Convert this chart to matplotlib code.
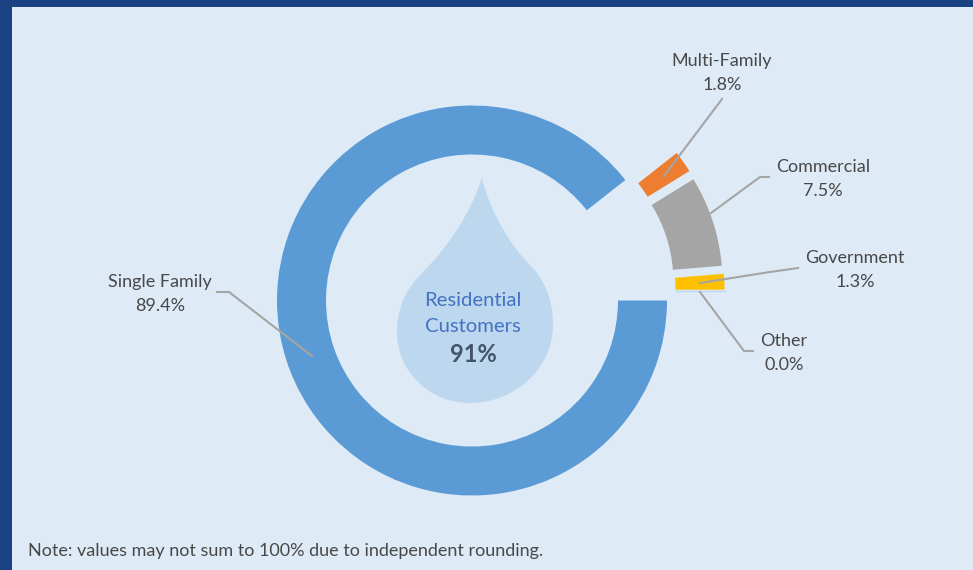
"""Residential customer share donut. Axes run in image pixels (y flipped by hand)."""

import matplotlib

matplotlib.use("Agg")
import matplotlib.pyplot as plt
from matplotlib.patches import PathPatch, Rectangle
from matplotlib.path import Path

W, H = 973, 570

CATEGORIES = ["Single Family", "Multi-Family", "Commercial", "Government", "Other"]
SHARES = [89.4, 1.8, 7.5, 1.3, 0.0]
CENTER_LINES = ["Residential", "Customers"]
CENTER_VALUE = "91%"
NOTE = "Note: values may not sum to 100% due to independent rounding."

COLORS = ["#5b9bd5", "#ed7d31", "#a5a5a5", "#ffc000", "#bdd7ee"]
BG = "#deeaf6"
NAVY = "#1a4282"
DROP = "#bdd7ee"
TEXT = "#484848"
LEADER = "#a5a5a5"

# how far each slice is pulled away from the ring, in pixels
PULL = [(0, 0), (51.4, 27), (55.4, 18.8), (57.5, 10.8), (57.5, 10.8)]

CX, CY, R_OUT, R_IN = 472, 300.5, 195, 146

LABEL_POS = [(160, 293), (722, 72), (823, 178), (855, 269), (784, 352)]
LINE_GAP = 12
LEADERS = [
    [(312, 356), (229, 292), (217, 292)],
    [(664, 176), (722, 99)],
    [(711, 213), (760, 177), (769, 177)],
    [(700, 283), (770, 272), (798, 268)],
    [(700, 292), (744, 351), (753, 351)],
]

plt.rcParams["font.family"] = "Lato"


def flip(y):
    return H - y


fig = plt.figure(figsize=(W / 100, H / 100), dpi=100, facecolor=NAVY)
ax = fig.add_axes([0, 0, 1, 1])

ax.add_patch(Rectangle((12, 0), W - 12, H - 7, facecolor=BG, edgecolor="none", zorder=0))

wedges, _ = ax.pie(
    SHARES, colors=COLORS, startangle=0, counterclock=False, radius=R_OUT,
    center=(CX, flip(CY)), wedgeprops={"width": R_OUT - R_IN, "linewidth": 0},
)
for wedge, (dx, dy) in zip(wedges, PULL):
    wedge.set_center((CX + dx, flip(CY) + dy))
    wedge.set_zorder(2)

# the 0% slice only shows as a hairline under Government
ax.plot([CX + PULL[4][0] + R_IN, CX + PULL[4][0] + R_OUT], [flip(291)] * 2,
        color=COLORS[4], lw=1, zorder=1.5)

ax.set_xlim(0, W)
ax.set_ylim(0, H)
ax.set_aspect("equal")
ax.axis("off")

# water drop
drop_pts = [
    (481.7, 178.3),
    (492, 215), (510, 245), (530, 265),
    (545, 280), (553, 300), (553, 325),
    (553, 368), (515, 403), (470, 403),
    (430, 403), (397, 372), (397, 332),
    (397, 305), (408, 287), (423, 272),
    (450, 245), (472, 210), (481.7, 178.3),
]
codes = [Path.MOVETO] + [Path.CURVE4] * (len(drop_pts) - 1)
ax.add_patch(PathPatch(Path([(x, flip(y)) for x, y in drop_pts], codes),
                       facecolor=DROP, edgecolor="none", zorder=1))

for pts in LEADERS:
    ax.plot([p[0] for p in pts], [flip(p[1]) for p in pts], color=LEADER, lw=1.5, zorder=3,
            solid_joinstyle="miter")

for name, share, (x, y) in zip(CATEGORIES, SHARES, LABEL_POS):
    ax.text(x, flip(y - LINE_GAP + 1), name, ha="center", va="center", color=TEXT, fontsize=13, zorder=4)
    ax.text(x, flip(y + LINE_GAP + 1), f"{share:.1f}%", ha="center", va="center", color=TEXT, fontsize=13, zorder=4)

ax.text(473, flip(300), CENTER_LINES[0], ha="center", va="center", color="#4472c4", fontsize=14.6, zorder=4)
ax.text(473, flip(326), CENTER_LINES[1], ha="center", va="center", color="#4472c4", fontsize=14.6, zorder=4)
ax.text(473, flip(355), CENTER_VALUE, ha="center", va="center", color="#44546a", fontsize=17,
        fontweight="bold", zorder=4)

ax.text(28, flip(551), NOTE, ha="left", va="center", color=TEXT, fontsize=13, zorder=4)

fig.savefig("out.png", dpi=100, facecolor=NAVY)
